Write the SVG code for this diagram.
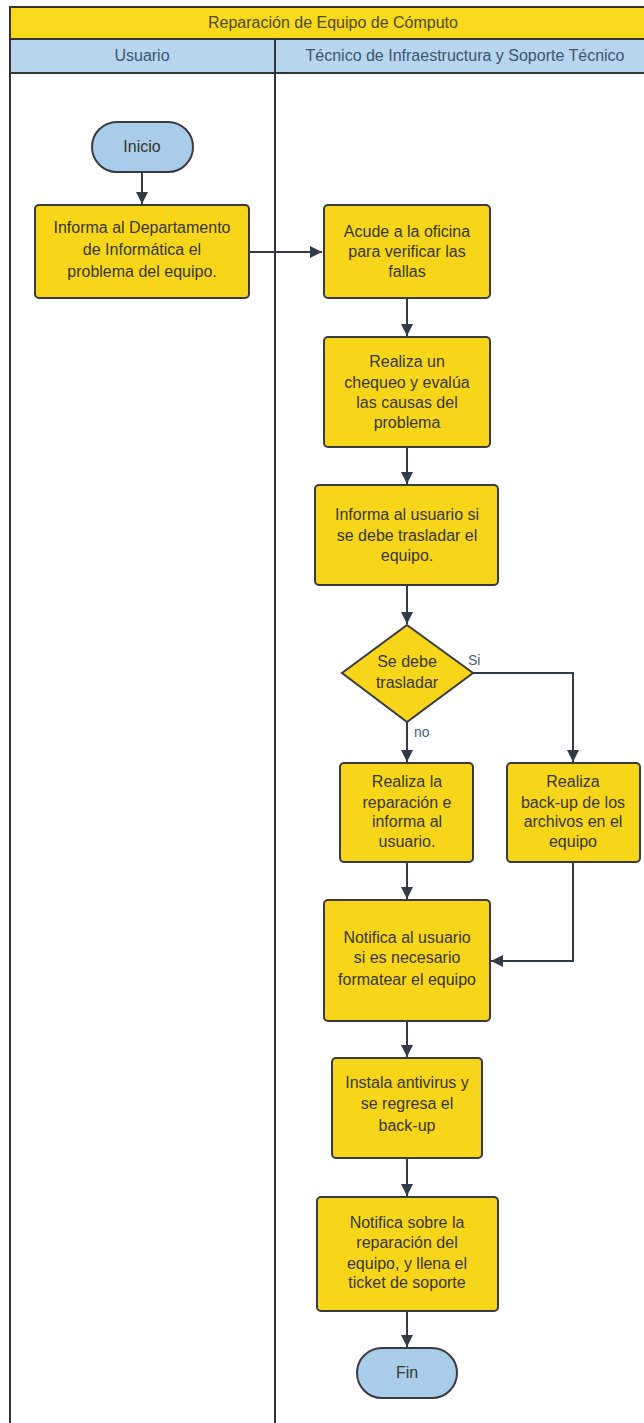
<svg xmlns="http://www.w3.org/2000/svg" width="644" height="1423" viewBox="0 0 644 1423">
<defs>
<style>
.box{fill:#F7D61A;stroke:#3a3a42;stroke-width:2}
.term{fill:#A9CCEB;stroke:#3a3a42;stroke-width:2}
.t{font-family:"Liberation Sans",Arial,sans-serif;font-size:16px;fill:#38362a;text-anchor:middle}
.tb{font-family:"Liberation Sans",Arial,sans-serif;font-size:16px;fill:#3c5670;text-anchor:middle}
.lbl{font-family:"Liberation Sans",Arial,sans-serif;font-size:14px;fill:#4a5a78}
.c{fill:none;stroke:#333a48;stroke-width:2}
.lane{fill:none;stroke:#333;stroke-width:2}
</style>
<marker id="ah" viewBox="0 0 10 10" refX="10" refY="5" markerWidth="6" markerHeight="6" orient="auto" markerUnits="strokeWidth">
<path d="M0,0 L10,5 L0,10 z" fill="#333a48"/>
</marker>
</defs>
<rect width="644" height="1423" fill="#ffffff"/>
<g id="pool">
<rect x="10" y="7" width="660" height="32" fill="#F9D91B"/>
<rect x="10" y="39" width="660" height="34" fill="#B8D5EF"/>
<line class="lane" x1="10" y1="7" x2="660" y2="7"/>
<line class="lane" x1="10" y1="39" x2="660" y2="39"/>
<line class="lane" x1="10" y1="73" x2="660" y2="73"/>
<line class="lane" x1="10" y1="6" x2="10" y2="1423"/>
<line class="lane" x1="275" y1="39" x2="275" y2="1423"/>
<text x="333" y="28" font-family="Liberation Sans,Arial,sans-serif" font-size="16" fill="#4e4a22" text-anchor="middle">Reparación de Equipo de Cómputo</text>
<text class="tb" x="142" y="61">Usuario</text>
<text class="tb" x="465" y="61">Técnico de Infraestructura y Soporte Técnico</text>
</g>
<g id="connectors">
<line class="c" x1="142" y1="172" x2="142" y2="204" marker-end="url(#ah)"/>
<line class="c" x1="249" y1="252" x2="322" y2="252" marker-end="url(#ah)"/>
<line class="c" x1="407" y1="298" x2="407" y2="336" marker-end="url(#ah)"/>
<line class="c" x1="407" y1="447" x2="407" y2="484" marker-end="url(#ah)"/>
<line class="c" x1="407" y1="585" x2="407" y2="624" marker-end="url(#ah)"/>
<polyline class="c" points="473,673 573,673 573,762" marker-end="url(#ah)"/>
<line class="c" x1="407" y1="722" x2="407" y2="762" marker-end="url(#ah)"/>
<line class="c" x1="407" y1="862" x2="407" y2="899" marker-end="url(#ah)"/>
<polyline class="c" points="573,862 573,961 491,961" marker-end="url(#ah)"/>
<line class="c" x1="407" y1="1021" x2="407" y2="1057" marker-end="url(#ah)"/>
<line class="c" x1="407" y1="1158" x2="407" y2="1196" marker-end="url(#ah)"/>
<line class="c" x1="407" y1="1311" x2="407" y2="1347" marker-end="url(#ah)"/>
<text class="lbl" x="468" y="665">Si</text>
<text class="lbl" x="414" y="737">no</text>
</g>
<g id="inicio">
<rect class="term" x="92" y="122" width="101" height="50" rx="25"/>
<text class="t" x="142" y="152">Inicio</text>
</g>
<g id="informa-depto">
<rect class="box" x="35" y="205" width="214" height="93" rx="4"/>
<text class="t" x="142" y="233">Informa al Departamento</text>
<text class="t" x="142" y="255">de Informática el</text>
<text class="t" x="142" y="277">problema del equipo.</text>
</g>
<g id="acude">
<rect class="box" x="324" y="205" width="166" height="93" rx="4"/>
<text class="t" x="407" y="237">Acude a la oficina</text>
<text class="t" x="407" y="257">para verificar las</text>
<text class="t" x="407" y="277">fallas</text>
</g>
<g id="chequeo">
<rect class="box" x="324" y="337" width="166" height="110" rx="4"/>
<text class="t" x="407" y="367">Realiza un</text>
<text class="t" x="407" y="388">chequeo y evalúa</text>
<text class="t" x="407" y="408">las causas del</text>
<text class="t" x="407" y="428">problema</text>
</g>
<g id="informa-usuario">
<rect class="box" x="315" y="485" width="183" height="100" rx="4"/>
<text class="t" x="407" y="520">Informa al usuario si</text>
<text class="t" x="407" y="541">se debe trasladar el</text>
<text class="t" x="407" y="561">equipo.</text>
</g>
<g id="decision">
<polygon class="box" points="407,625 473,673 407,722 342,673"/>
<text class="t" x="407" y="667">Se debe</text>
<text class="t" x="407" y="688">trasladar</text>
</g>
<g id="reparacion">
<rect class="box" x="340" y="763" width="133" height="99" rx="4"/>
<text class="t" x="407" y="787">Realiza la</text>
<text class="t" x="407" y="808">reparación e</text>
<text class="t" x="407" y="827">informa al</text>
<text class="t" x="407" y="847">usuario.</text>
</g>
<g id="backup">
<rect class="box" x="507" y="763" width="133" height="99" rx="4"/>
<text class="t" x="573" y="787">Realiza</text>
<text class="t" x="573" y="808">back-up de los</text>
<text class="t" x="573" y="827">archivos en el</text>
<text class="t" x="573" y="847">equipo</text>
</g>
<g id="notifica-formatear">
<rect class="box" x="324" y="900" width="166" height="121" rx="4"/>
<text class="t" x="407" y="943">Notifica al usuario</text>
<text class="t" x="407" y="963">si es necesario</text>
<text class="t" x="407" y="985">formatear el equipo</text>
</g>
<g id="antivirus">
<rect class="box" x="332" y="1058" width="150" height="100" rx="4"/>
<text class="t" x="407" y="1088">Instala antivirus y</text>
<text class="t" x="407" y="1109">se regresa el</text>
<text class="t" x="407" y="1131">back-up</text>
</g>
<g id="notifica-reparacion">
<rect class="box" x="317" y="1197" width="181" height="114" rx="4"/>
<text class="t" x="407" y="1228">Notifica sobre la</text>
<text class="t" x="407" y="1248">reparación del</text>
<text class="t" x="407" y="1269">equipo, y llena el</text>
<text class="t" x="407" y="1288">ticket de soporte</text>
</g>
<g id="fin">
<rect class="term" x="357" y="1348" width="100" height="50" rx="25"/>
<text class="t" x="407" y="1378">Fin</text>
</g>
</svg>
